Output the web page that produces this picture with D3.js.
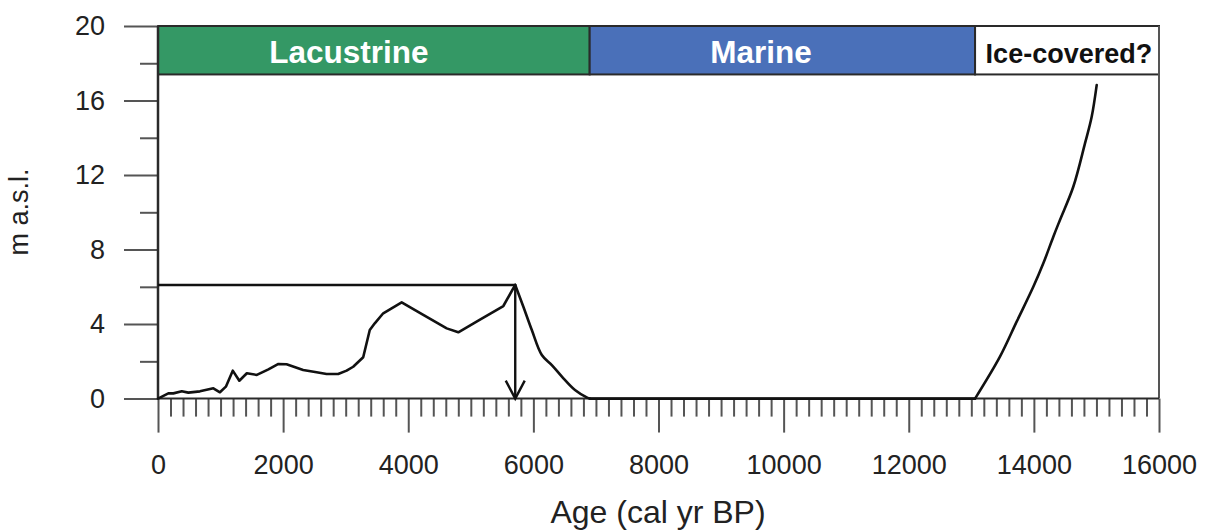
<!DOCTYPE html>
<html>
<head>
<meta charset="utf-8">
<script src="https://cdn.jsdelivr.net/npm/d3@7"></script>
<style>
  html, body { margin: 0; padding: 0; background: #fff; }
  svg { display: block; font-family: "Liberation Sans", Arial, sans-serif; }
</style>
</head>
<body>
<svg id="chart" width="1206" height="531"></svg>
<script>
// Relative sea level curve (age in cal yr BP, elevation in m a.s.l.)
const lakeAges = [0, 165, 245, 380, 485, 670, 885, 990, 1085, 1195, 1300, 1420, 1580, 1765, 1925, 2055, 2320, 2535, 2695, 2880, 3015, 3120, 3280, 3385, 3465, 3600, 3895, 4240, 4615, 4800, 5140, 5520, 5710];
const lakeLevels = [0, 0.28, 0.28, 0.39, 0.32, 0.39, 0.55, 0.34, 0.64, 1.5, 0.96, 1.36, 1.27, 1.57, 1.86, 1.84, 1.54, 1.41, 1.32, 1.32, 1.5, 1.71, 2.22, 3.68, 4.04, 4.58, 5.17, 4.49, 3.77, 3.56, 4.22, 4.97, 6.1];
const fallAges = [5710, 5840, 5975, 6135, 6295, 6480, 6665, 6860, 6900];
const fallLevels = [6.1, 4.93, 3.68, 2.34, 1.80, 1.09, 0.46, 0.05, 0];
const flatAges = [6900, 13060];
const flatLevels = [0, 0];
const iceAges = [13060, 13458, 13725, 13991, 14151, 14311, 14417, 14630, 14817, 14924, 15004];
const iceLevels = [0, 2.25, 4.13, 6.0, 7.26, 8.69, 9.59, 11.37, 13.7, 15.13, 16.83];

// Highest lake level marker and the age it points to
const markAge = 5710;
const markLevel = 6.1;

// Environment phases shown as a band along the top
const phaseNames = ["Lacustrine", "Marine", "Ice-covered?"];
const phaseStart = [0, 6900, 13060];
const phaseEnd = [6900, 13060, 16000];
const phaseFill = ["#349865", "#4a70b9", "#ffffff"];
const phaseText = ["#ffffff", "#ffffff", "#111111"];
const phaseLabelAge = [3050, 9640, 14560];
const bandBottom = 17.4;

const yMajor = [0, 4, 8, 12, 16, 20];
const yMinor = [2, 6, 10, 14, 18];
const xMajor = [0, 2000, 4000, 6000, 8000, 10000, 12000, 14000, 16000];
const xMinor = d3.range(0, 16001, 200).filter(v => v % 2000 !== 0);

const svg = d3.select("#chart");
const x = d3.scaleLinear().domain([0, 16000]).range([158, 1159]);
const y = d3.scaleLinear().domain([0, 20]).range([398.6, 26]);

const axisColor = "#2a2a2a";
const tickColor = "#555";
const font = "'Liberation Sans', Arial, sans-serif";

// Phase band
const band = svg.append("g");
phaseNames.forEach((name, i) => {
  band.append("rect")
    .attr("x", x(phaseStart[i]))
    .attr("y", y(20))
    .attr("width", x(phaseEnd[i]) - x(phaseStart[i]))
    .attr("height", y(bandBottom) - y(20))
    .attr("fill", phaseFill[i])
    .attr("stroke", "#2a2a2a")
    .attr("stroke-width", 2);
  band.append("text")
    .attr("x", x(phaseLabelAge[i]))
    .attr("y", i === 2 ? 63 : 62.5)
    .attr("text-anchor", "middle")
    .attr("font-weight", "bold")
    .attr("font-size", i === 2 ? 27 : 31.5)
    .attr("fill", phaseText[i])
    .text(name);
});

// Right frame
svg.append("line")
  .attr("x1", x(16000)).attr("x2", x(16000))
  .attr("y1", y(20)).attr("y2", y(0))
  .attr("stroke", tickColor).attr("stroke-width", 2);

// Y axis
const yAxisMajor = d3.axisLeft(y).tickValues(yMajor).tickSize(34).tickPadding(19).tickFormat(d3.format("d"));
const yAxisMinor = d3.axisLeft(y).tickValues(yMinor).tickSize(18).tickFormat("");
const gyMinor = svg.append("g").attr("transform", `translate(${x(0)},0)`).call(yAxisMinor);
const gy = svg.append("g").attr("transform", `translate(${x(0)},0)`).call(yAxisMajor);
[gy, gyMinor].forEach(g => {
  g.select(".domain").remove();
  g.selectAll(".tick line").attr("stroke", tickColor).attr("stroke-width", 2);
});
gy.selectAll(".tick text")
  .attr("font-size", 27).attr("fill", "#222")
  .attr("font-family", font);

// X axis
const xAxisMajor = d3.axisBottom(x).tickValues(xMajor).tickSize(34).tickPadding(22).tickFormat(d3.format("d"));
const xAxisMinor = d3.axisBottom(x).tickValues(xMinor).tickSize(18).tickFormat("");
const gxMinor = svg.append("g").attr("transform", `translate(0,${y(0)})`).call(xAxisMinor);
const gx = svg.append("g").attr("transform", `translate(0,${y(0)})`).call(xAxisMajor);
[gx, gxMinor].forEach(g => {
  g.select(".domain").remove();
  g.selectAll(".tick line").attr("stroke", tickColor).attr("stroke-width", 2);
});
gx.selectAll(".tick text")
  .attr("font-size", 27).attr("fill", "#222")
  .attr("font-family", font);

// Axis lines
svg.append("line")
  .attr("x1", x(0)).attr("x2", x(16000))
  .attr("y1", y(0)).attr("y2", y(0))
  .attr("stroke", axisColor).attr("stroke-width", 2);
svg.append("line")
  .attr("x1", x(0)).attr("x2", x(0))
  .attr("y1", y(20)).attr("y2", y(0))
  .attr("stroke", axisColor).attr("stroke-width", 2.5);

// Axis titles
svg.append("text")
  .attr("x", 658).attr("y", 523)
  .attr("text-anchor", "middle")
  .attr("font-size", 32).attr("fill", "#222")
  .text("Age (cal yr BP)");
svg.append("text")
  .attr("transform", "translate(28,212) rotate(-90)")
  .attr("text-anchor", "middle")
  .attr("font-size", 27).attr("fill", "#222")
  .text("m a.s.l.");

// Sea level curve: jagged lake record, smoother fall and post-glacial rise
const straight = d3.line().x(d => x(d[0])).y(d => y(d[1]));
const smooth = d3.line().x(d => x(d[0])).y(d => y(d[1])).curve(d3.curveCatmullRom.alpha(0.5));
const segments = [
  [lakeAges, lakeLevels, straight],
  [fallAges, fallLevels, smooth],
  [flatAges, flatLevels, straight],
  [iceAges, iceLevels, smooth]
];
segments.forEach(([a, v, gen]) => {
  svg.append("path")
    .datum(a.map((t, i) => [t, v[i]]))
    .attr("d", gen)
    .attr("fill", "none")
    .attr("stroke", "#111")
    .attr("stroke-width", 2.6)
    .attr("stroke-linejoin", "round")
    .attr("stroke-linecap", "round");
});

// Highest level marker: horizontal guide and arrow down to the age axis
svg.append("line")
  .attr("x1", x(0)).attr("x2", x(markAge))
  .attr("y1", y(markLevel)).attr("y2", y(markLevel))
  .attr("stroke", "#111").attr("stroke-width", 2.4);
svg.append("line")
  .attr("x1", x(markAge)).attr("x2", x(markAge))
  .attr("y1", y(markLevel)).attr("y2", y(0))
  .attr("stroke", "#111").attr("stroke-width", 2.4);
svg.append("path")
  .attr("d", `M${x(markAge) - 9.5},${y(0) - 18} L${x(markAge)},${y(0)} L${x(markAge) + 9.5},${y(0) - 18}`)
  .attr("fill", "none").attr("stroke", "#111").attr("stroke-width", 2.4);
</script>
</body>
</html>
